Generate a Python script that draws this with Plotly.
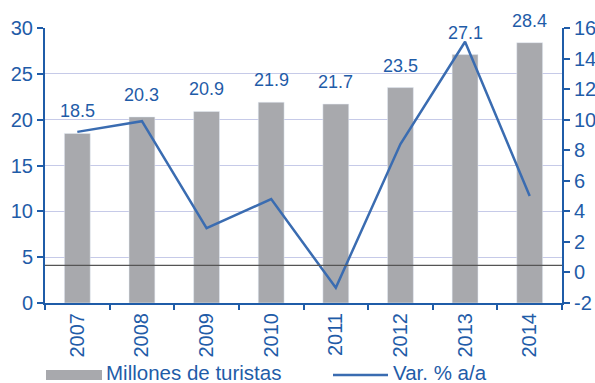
import plotly.graph_objects as go

# Turistas internacionales (millones) y variación interanual (%)
years = ["2007", "2008", "2009", "2010", "2011", "2012", "2013", "2014"]
tourists = [18.5, 20.3, 20.9, 21.9, 21.7, 23.5, 27.1, 28.4]
yoy_change = [9.2, 9.9, 2.9, 4.8, -1.0, 8.4, 15.1, 5.0]
left_ticks = [0, 5, 10, 15, 20, 25, 30]
right_ticks = [-2, 0, 2, 4, 6, 8, 10, 12, 14, 16]
bar_name = "Millones de turistas"
line_name = "Var. % a/a"

BLUE = "#1f5ca8"
LINE_BLUE = "#3a6cb1"
GREY = "#a8a9ad"
GRID = "#c6cae8"
FONT = "Liberation Sans, Arial, sans-serif"

W, H = 595, 383
L, R, T, B = 45, 33, 28, 80
PW, PH = W - L - R, H - T - B


def px_x(x):
    return (x - L) / PW


def px_y(y):
    return (H - B - y) / PH


fig = go.Figure()
fig.add_trace(go.Bar(
    x=years, y=tourists, name=bar_name, marker_color=GREY,
    width=0.4, yaxis="y", showlegend=False,
))
fig.add_trace(go.Scatter(
    x=years, y=yoy_change, name=line_name, mode="lines",
    line=dict(color=LINE_BLUE, width=2.5), yaxis="y2", showlegend=False,
))

annotations = []
# value labels above each bar (category index used as x position)
for i, v in enumerate(tourists):
    annotations.append(dict(
        x=i, y=v, xref="x", yref="y", text=f"{v:.1f}", showarrow=False,
        yanchor="bottom", yshift=10, font=dict(size=18, color=BLUE, family=FONT),
    ))

# legend drawn beneath the axis
annotations.append(dict(
    x=px_x(105), y=px_y(372), xref="paper", yref="paper", text=bar_name,
    showarrow=False, xanchor="left", yanchor="middle", borderpad=0,
    font=dict(size=20.5, color=BLUE, family=FONT),
))
annotations.append(dict(
    x=px_x(392), y=px_y(372), xref="paper", yref="paper", text=line_name,
    showarrow=False, xanchor="left", yanchor="middle", borderpad=0,
    font=dict(size=20.5, color=BLUE, family=FONT),
))

shapes = [
    dict(type="line", xref="paper", yref="y", x0=0, x1=1, y0=4.1, y1=4.1,
         line=dict(color="#555555", width=1.2), layer="above"),
    dict(type="rect", xref="paper", yref="paper",
         x0=px_x(46), x1=px_x(102), y0=px_y(370), y1=px_y(380),
         fillcolor=GREY, line=dict(width=0)),
    dict(type="line", xref="paper", yref="paper",
         x0=px_x(333), x1=px_x(388), y0=px_y(375), y1=px_y(375),
         line=dict(color=LINE_BLUE, width=2.5)),
]

axis_font = dict(size=20, color=BLUE, family=FONT)

fig.update_layout(
    width=W, height=H,
    margin=dict(l=L, r=R, t=T, b=B, pad=0, autoexpand=False),
    paper_bgcolor="white", plot_bgcolor="white",
    font=dict(family=FONT, color=BLUE),
    xaxis=dict(
        type="category", range=[-0.5, 7.5], tickangle=-90, automargin=False,
        tickfont=axis_font, showline=True, linecolor=BLUE, linewidth=2,
        ticks="outside", tickson="boundaries", ticklen=5, tickwidth=2,
        tickcolor=BLUE, showgrid=False,
    ),
    yaxis=dict(
        range=[0, 30], tickvals=left_ticks, tickfont=axis_font, automargin=False,
        showline=True, linecolor=BLUE, linewidth=2, ticks="outside",
        ticklen=6, tickwidth=2, tickcolor=BLUE,
        showgrid=True, gridcolor=GRID, gridwidth=1, zeroline=False,
    ),
    yaxis2=dict(
        range=[-2, 16], tickvals=right_ticks,
        ticktext=[str(v) for v in right_ticks],
        tickfont=axis_font, automargin=False,
        overlaying="y", side="right", showline=True, linecolor=BLUE,
        linewidth=2, ticks="outside", ticklen=6, tickwidth=2, tickcolor=BLUE,
        showgrid=False, zeroline=False,
    ),
    annotations=annotations,
    shapes=shapes,
    showlegend=False,
)

fig.write_html("out.html")
